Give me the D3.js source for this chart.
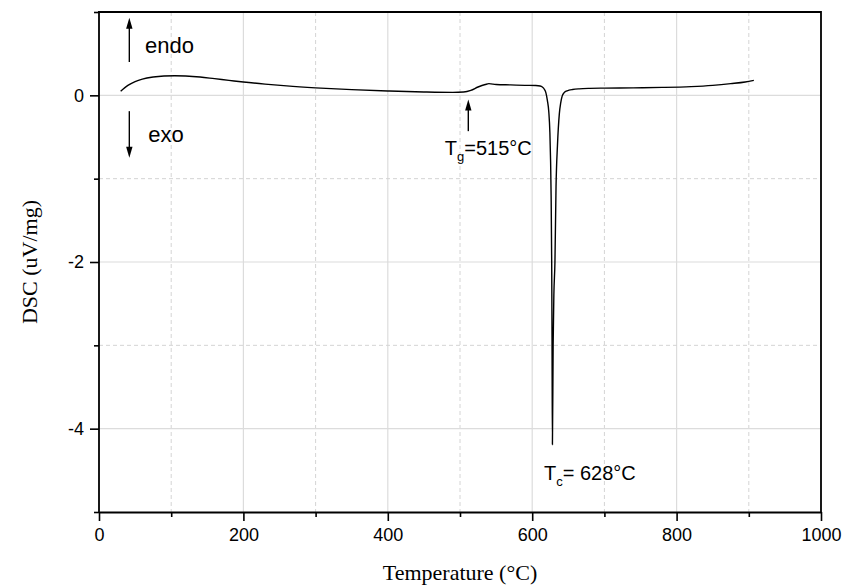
<!DOCTYPE html>
<html><head><meta charset="utf-8">
<script src="https://cdn.jsdelivr.net/npm/d3@7/dist/d3.min.js"></script>
<style>body{margin:0;background:#fff}svg{display:block}</style>
</head><body><svg id="c" width="843" height="586"></svg>
<script>
// ---- data ----
const temperature = [30,40,50,60,75,90,105,120,140,160,180,200,230,260,300,350,400,450,490,505,515,525,535,540,550,570,590,605,611,614,617,619,621,623,624.5,625.5,626.2,627,627.5,628,629,630,631.5,633,635,637.6,639.5,641.5,644,647,651,656,665,680,700,740,780,820,850,875,895,907];
const dsc = [0.05,0.12,0.165,0.195,0.22,0.232,0.235,0.232,0.22,0.2,0.18,0.16,0.135,0.113,0.09,0.068,0.052,0.04,0.035,0.04,0.06,0.1,0.13,0.14,0.13,0.125,0.12,0.118,0.112,0.1,0.07,0.03,-0.06,-0.2,-0.45,-0.8,-1.2,-2.0,-3.0,-4.19,-3.0,-2.4,-2.0,-1.1,-0.6,-0.22,-0.09,-0.01,0.03,0.05,0.062,0.07,0.078,0.084,0.087,0.09,0.095,0.105,0.12,0.14,0.16,0.18];
const xMajorTicks = [0,200,400,600,800,1000];
const xMinorTicks = [100,300,500,700,900];
const yMajorTicks = [0,-2,-4];
const yMinorTicks = [1,-1,-3,-5];
const xDomain = [0,1000];
const yDomain = [-5,1];
const xTitle = "Temperature (°C)";
const yTitle = "DSC (uV/mg)";

// ---- layout ----
const W = 843, H = 586;
const m = {left:99, top:12, right:22, bottom:74};
const svg = d3.select("#c");
const x = d3.scaleLinear().domain(xDomain).range([m.left, W - m.right]);
const y = d3.scaleLinear().domain(yDomain).range([H - m.bottom, m.top]);
const sans = "'Liberation Sans', Arial, Helvetica, sans-serif";
const serif = "'Liberation Serif', 'Times New Roman', Times, serif";
const fmt = d => String(d);

// grid
const g = svg.append("g");
g.selectAll(".gxM").data(xMajorTicks.filter(d=>d>0&&d<1000)).join("line")
  .attr("x1",d=>x(d)).attr("x2",d=>x(d)).attr("y1",y(1)).attr("y2",y(-5))
  .attr("stroke","#dcdcdc").attr("stroke-width",1.2);
g.selectAll(".gxm").data(xMinorTicks).join("line")
  .attr("x1",d=>x(d)).attr("x2",d=>x(d)).attr("y1",y(1)).attr("y2",y(-5))
  .attr("stroke","#d4d4d4").attr("stroke-width",1).attr("stroke-dasharray","4,3");
g.selectAll(".gyM").data(yMajorTicks).join("line")
  .attr("y1",d=>y(d)).attr("y2",d=>y(d)).attr("x1",x(0)).attr("x2",x(1000))
  .attr("stroke","#dcdcdc").attr("stroke-width",1.2);
g.selectAll(".gym").data(yMinorTicks.filter(d=>d<1&&d>-5)).join("line")
  .attr("y1",d=>y(d)).attr("y2",d=>y(d)).attr("x1",x(0)).attr("x2",x(1000))
  .attr("stroke","#d4d4d4").attr("stroke-width",1).attr("stroke-dasharray","4,3");

// curve
const pts = temperature.map((t,i)=>[t,dsc[i]]);
svg.append("path").datum(pts)
  .attr("d", d3.line().x(d=>x(d[0])).y(d=>y(d[1])).curve(d3.curveMonotoneX))
  .attr("fill","none").attr("stroke","#000").attr("stroke-width",1.4);

// axes
function styleAxis(sel){
  sel.selectAll(".domain").attr("stroke","#000").attr("stroke-width",1.8);
  sel.selectAll(".tick line").attr("stroke","#000").attr("stroke-width",1.6);
  sel.selectAll("text").attr("font-family",sans).attr("font-size",18).attr("fill","#000");
}
const xa = svg.append("g").attr("transform",`translate(0,${y(-5)})`)
  .call(d3.axisBottom(x).tickValues(xMajorTicks).tickSize(9).tickSizeOuter(0).tickPadding(7).tickFormat(fmt));
styleAxis(xa);
const xam = svg.append("g").attr("transform",`translate(0,${y(-5)})`)
  .call(d3.axisBottom(x).tickValues(xMinorTicks).tickSize(5).tickSizeOuter(0).tickFormat(""));
styleAxis(xam); xam.select(".domain").remove();

const ya = svg.append("g").attr("transform",`translate(${x(0)},0)`)
  .call(d3.axisLeft(y).tickValues(yMajorTicks).tickSize(9).tickSizeOuter(0).tickPadding(6).tickFormat(fmt));
styleAxis(ya);
ya.select(".domain").attr("d",`M0,${y(-5)+1}V${y(1)}`);
const yam = svg.append("g").attr("transform",`translate(${x(0)},0)`)
  .call(d3.axisLeft(y).tickValues(yMinorTicks).tickSize(5).tickSizeOuter(0).tickFormat(""));
styleAxis(yam); yam.select(".domain").remove();

// frame top/right
svg.append("path").attr("d",`M${x(0)-1},${y(1)}H${x(1000)}V${y(-5)}`)
  .attr("fill","none").attr("stroke","#000").attr("stroke-width",1.8);

// titles
svg.append("text").attr("x",(x(0)+x(1000))/2).attr("y",580).attr("text-anchor","middle")
  .attr("font-family",serif).attr("font-size",22).text(xTitle);
svg.append("text").attr("transform",`translate(37,${(y(1)+y(-5))/2}) rotate(-90)`)
  .attr("text-anchor","middle").attr("font-family",serif).attr("font-size",22).text(yTitle);

// annotations
function arrow(tx, v0, v1){ // from v0 to tip v1
  const px = x(tx), y0 = y(v0), y1 = y(v1);
  const dir = Math.sign(y1 - y0);
  svg.append("line").attr("x1",px).attr("x2",px).attr("y1",y0).attr("y2",y1 - dir*6)
    .attr("stroke","#000").attr("stroke-width",1.4);
  svg.append("path").attr("d",`M${px},${y1}L${px-3.2},${y1-dir*11}L${px+3.2},${y1-dir*11}Z`).attr("fill","#000");
}
arrow(42, 0.40, 0.93);
arrow(42, -0.19, -0.75);
arrow(511.5, -0.43, -0.05);

svg.append("text").attr("x",x(63.7)).attr("y",y(0.51)).attr("font-family",sans).attr("font-size",22).text("endo");
svg.append("text").attr("x",x(68.3)).attr("y",y(-0.56)).attr("font-family",sans).attr("font-size",22).text("exo");

const tg = svg.append("text").attr("x",x(479)).attr("y",y(-0.72)).attr("font-family",sans).attr("font-size",20);
tg.append("tspan").text("T");
tg.append("tspan").attr("font-size",13).attr("dy",6).text("g");
tg.append("tspan").attr("dy",-6).text("=515°C");

const tc = svg.append("text").attr("x",x(616.3)).attr("y",y(-4.61)).attr("font-family",sans).attr("font-size",20);
tc.append("tspan").text("T");
tc.append("tspan").attr("font-size",13).attr("dy",6).text("c");
tc.append("tspan").attr("dy",-6).text("= 628°C");
</script></body></html>
